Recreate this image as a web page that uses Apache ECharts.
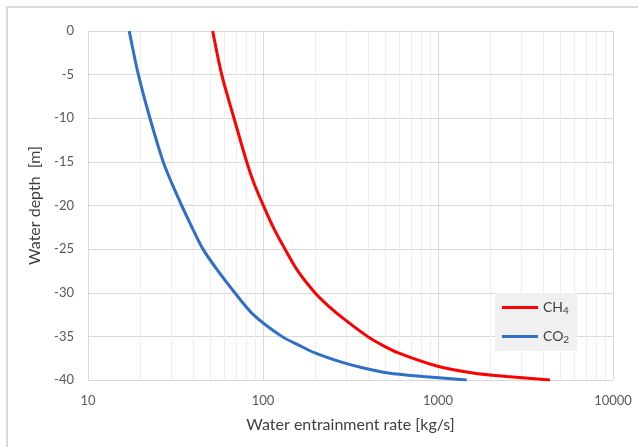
<!DOCTYPE html>
<html>
<head>
<meta charset="utf-8">
<script src="https://cdn.jsdelivr.net/npm/echarts@6/dist/echarts.min.js"></script>
<style>
  html, body { margin: 0; padding: 0; background: #fff; }
  #chart { width: 638px; height: 447px; }
</style>
</head>
<body>
<div id="chart"></div>
<script>
// depth [m] and entrainment rate [kg/s]
const ch4Depth = [0, -5, -10, -15, -17.5, -20, -22.5, -25, -27.5, -30, -31.5, -33, -35, -36, -36.9, -38.4, -39.2, -39.6, -40];
const ch4Rate  = [51.6, 58.1, 68.3, 80.7, 89, 100.5, 114.5, 133.6, 158, 198, 236, 290, 395, 480, 593, 984, 1585, 2470, 4365];

const co2Depth = [0, -5, -10, -15, -17.5, -20, -22.5, -25, -27.5, -30, -32.5, -35, -36, -36.9, -37.9, -38.6, -39.2, -39.6, -40];
const co2Rate  = [17.2, 19.4, 22.6, 26.9, 30.2, 34.3, 39.3, 45.4, 55.3, 69, 88, 128, 160, 198, 275, 370, 520, 820, 1459];

const xTicks = [10, 100, 1000, 10000];
const minorGrid = [20, 30, 40, 50, 60, 70, 80, 90,
                   200, 300, 400, 500, 600, 700, 800, 900,
                   2000, 3000, 4000, 5000, 6000, 7000, 8000, 9000];

const pairs = (xs, ys) => xs.map((x, i) => [x, ys[i]]);

const chart = echarts.init(document.getElementById('chart'));
const txt = '#595959';
const font = 'Lato, "Open Sans", sans-serif';

chart.setOption({
  animation: false,
  textStyle: { fontFamily: font },
  graphic: [{
    type: 'rect', silent: true, z: -10,
    shape: { x: 7, y: 7, width: 700, height: 500 },
    style: { fill: 'none', stroke: '#d9d9d9', lineWidth: 2 }
  }],
  grid: { left: 88, top: 31, right: 25, bottom: 67 },
  xAxis: {
    type: 'log', logBase: 10, min: 10, max: 10000,
    name: 'Water entrainment rate [kg/s]',
    nameLocation: 'middle', nameGap: 37,
    nameTextStyle: { color: '#404040', fontSize: 16, fontFamily: font },
    axisLine: { show: false },
    axisTick: { show: false },
    axisLabel: { color: txt, fontSize: 13, margin: 14,
      formatter: v => xTicks.includes(Math.round(v)) ? String(Math.round(v)) : '' },
    splitLine: { show: true, lineStyle: { color: '#d9d9d9', width: 1 } }
  },
  yAxis: {
    type: 'value', min: -40, max: 0, interval: 5,
    name: 'Water depth  [m]',
    nameLocation: 'middle', nameGap: 44, nameRotate: 90,
    nameTextStyle: { color: '#404040', fontSize: 16, fontFamily: font },
    axisLine: { show: false },
    axisTick: { show: false },
    axisLabel: { color: txt, fontSize: 13, margin: 14 },
    splitLine: { show: true, lineStyle: { color: '#d9d9d9', width: 1 } }
  },
  legend: {
    orient: 'vertical',
    left: 495, top: 293,
    padding: [6, 8, 6, 7],
    backgroundColor: '#f0f0f0',
    itemWidth: 36, itemHeight: 3, itemGap: 12,
    icon: 'rect',
    formatter: name => name.replace('₄', '{s|4}').replace('₂', '{s|2}'),
    textStyle: {
      color: '#404040', fontSize: 14, lineHeight: 17,
      rich: { s: { fontSize: 10, color: '#404040', verticalAlign: 'bottom', lineHeight: 12 } }
    },
    data: ['CH₄', 'CO₂']
  },
  series: [
    {
      name: 'minor', type: 'line', data: [], z: 0, silent: true,
      markLine: {
        silent: true, symbol: 'none', label: { show: false }, z: 0,
        lineStyle: { color: '#eeeeee', width: 1, type: 'solid' },
        data: minorGrid.map(v => ({ xAxis: v }))
      }
    },
    {
      name: 'CH₄', type: 'line', smooth: 0.3, showSymbol: false, z: 10,
      data: pairs(ch4Rate, ch4Depth),
      lineStyle: { color: '#ff0000', width: 3 },
      itemStyle: { color: '#ff0000' }
    },
    {
      name: 'CO₂', type: 'line', smooth: 0.3, showSymbol: false, z: 10,
      data: pairs(co2Rate, co2Depth),
      lineStyle: { color: '#2f6fc7', width: 3 },
      itemStyle: { color: '#2f6fc7' }
    }
  ]
});
</script>
</body>
</html>
